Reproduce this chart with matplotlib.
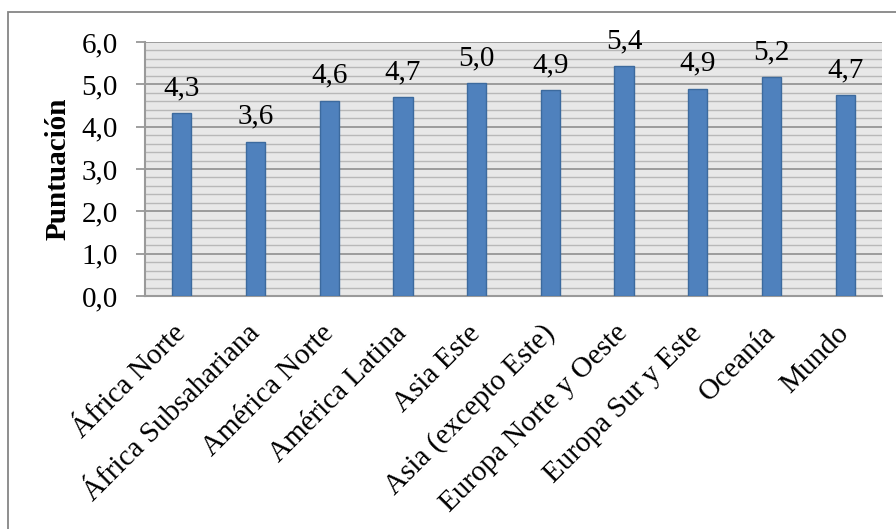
import matplotlib
matplotlib.use("Agg")
import matplotlib.pyplot as plt
from matplotlib.patches import Rectangle
from matplotlib.ticker import MultipleLocator, FuncFormatter

# Puntuación media por región
regiones = ["África Norte", "África Subsahariana", "América Norte", "América Latina",
            "Asia Este", "Asia (excepto Este)", "Europa Norte y Oeste",
            "Europa Sur y Este", "Oceanía", "Mundo"]
puntuacion = [4.32, 3.64, 4.61, 4.70, 5.03, 4.86, 5.43, 4.90, 5.17, 4.74]

plt.rcParams['font.family'] = ['Liberation Serif', 'DejaVu Serif']
FS = 21

W, H = 896, 529
fig = plt.figure(figsize=(W / 100, H / 100), dpi=100)
fig.patch.set_facecolor('white')

# chart frame (only top and left edges are inside the image)
fig.add_artist(Rectangle((8 / W, -0.2), 2.0, (H - 12) / H + 0.2,
                         transform=fig.transFigure, fill=False,
                         edgecolor='#868686', linewidth=1.3))

ax = fig.add_axes([145 / W, (H - 296) / H, (882 - 145) / W, (296 - 42) / H])
ax.set_facecolor('#e8e8e8')

x = list(range(len(regiones)))
ax.bar(x, puntuacion, width=0.26, color='#4f81bd', edgecolor='#3c6a9e',
       linewidth=1.0, zorder=3)

for xi, v in zip(x, puntuacion):
    ax.annotate(f"{v:.1f}".replace('.', ','), (xi, v), xytext=(0, 13),
                textcoords='offset points', ha='center', va='baseline',
                fontsize=FS, zorder=4)

ax.set_xlim(-0.5, len(regiones) - 0.5)
ax.set_ylim(0, 6)
ax.yaxis.set_major_locator(MultipleLocator(1))
ax.yaxis.set_minor_locator(MultipleLocator(0.2))
ax.yaxis.set_major_formatter(FuncFormatter(lambda v, p: f"{v:.1f}".replace('.', ',')))

ax.grid(axis='y', which='minor', color='#b8b8b8', linewidth=1.0, zorder=1)
ax.grid(axis='y', which='major', color='#8f8f8f', linewidth=1.2, zorder=2)
ax.set_axisbelow(True)

for s in ['top', 'right']:
    ax.spines[s].set_visible(False)
for s in ['left', 'bottom']:
    ax.spines[s].set_color('#9a9a9a')
    ax.spines[s].set_linewidth(1.5)

ax.tick_params(axis='y', which='major', length=6.5, width=1.2, color='#8f8f8f',
               pad=13, labelsize=FS)
ax.tick_params(axis='y', which='minor', length=0)
ax.tick_params(axis='x', length=0, pad=24)

ax.set_xticks(x)
ax.set_xticklabels(regiones, rotation=45, ha='right', va='center',
                   rotation_mode='anchor', fontsize=FS)

ax.set_ylabel("Puntuación", fontsize=FS, fontweight='bold')
ax.yaxis.set_label_coords(-0.100, 0.5)

fig.savefig("out.png", dpi=100)
